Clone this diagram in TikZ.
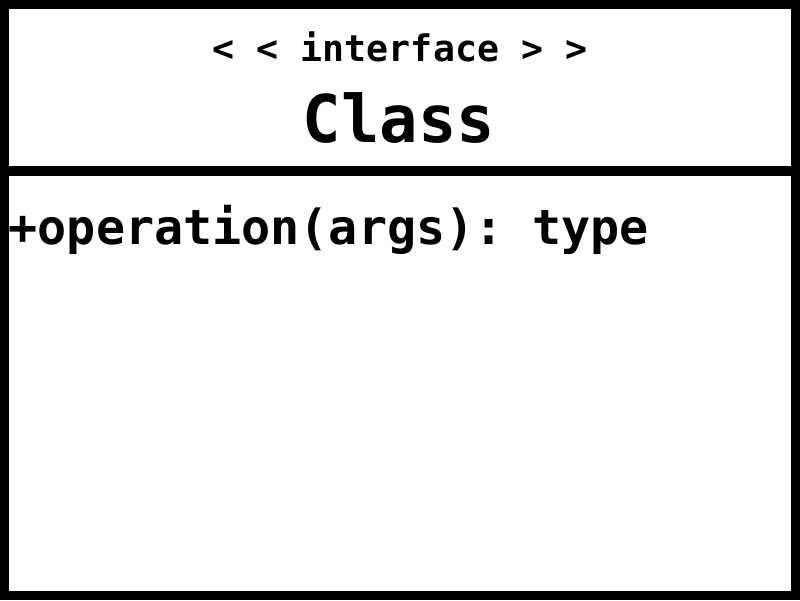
\documentclass[tikz,border=0pt]{standalone}
\usepackage{fontspec}
\newfontfamily\umlfont{DejaVu Sans Mono Bold}
\newfontfamily\umlnamefont[FakeStretch=0.97]{DejaVu Sans Mono Bold}
\begin{document}
\begin{tikzpicture}[x=0.01cm,y=-0.01cm,
  frame/.style={draw=black,line width=2.56pt,fill=white},
  divider/.style={draw=black,line width=2.7pt},
  txt/.style={inner sep=0pt,anchor=base}]
\useasboundingbox (0,0) rectangle (800,600);
\draw[frame] (4.5,4.5) rectangle (795.5,595.5);
\coordinate (dl) at (4.5,171);
\coordinate (dr) at (795.5,171);
\draw[divider] (dl) -- (dr);
\node[txt,font=\umlfont\fontsize{10.4}{12}\selectfont] (stereo) at (400,61) {< < interface > >};
\node[txt,font=\umlnamefont\fontsize{18.7}{22}\selectfont] (name) at (399,142) {Class};
\node[txt,font=\umlfont\fontsize{13.75}{16}\selectfont,anchor=base west] (op) at (8,244) {+operation(args):~type};
\end{tikzpicture}
\end{document}
